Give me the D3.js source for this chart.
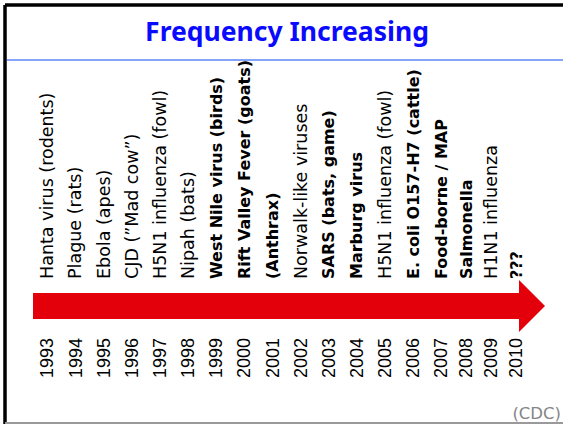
<!DOCTYPE html>
<html>
<head>
<meta charset="utf-8">
<script src="https://cdn.jsdelivr.net/npm/d3@7"></script>
<style>
    body { margin: 0; background: white; }
</style>
</head>
<body>
<script>
var years = [1993, 1994, 1995, 1996, 1997, 1998, 1999, 2000, 2001, 2002, 2003, 2004, 2005, 2006, 2007, 2008, 2009, 2010];
var events = ["Hanta virus (rodents)", "Plague (rats)", "Ebola (apes)", "CJD (\u201DMad cow\u201D)", "H5N1 influenza (fowl)",
    "Nipah (bats)", "West Nile virus (birds)", "Rift Valley Fever (goats)", "(Anthrax)", "Norwalk-like viruses",
    "SARS (bats, game)", "Marburg virus", "H5N1 influenza (fowl)", "E. coli O157-H7 (cattle)", "Food-borne / MAP",
    "Salmonella", "H1N1 influenza", "???"];
// events written in heavy type on the slide
var emphasized = ["West Nile virus (birds)", "Rift Valley Fever (goats)", "(Anthrax)", "SARS (bats, game)", "Marburg virus",
    "E. coli O157-H7 (cattle)", "Food-borne / MAP", "Salmonella", "???"];
var title = "Frequency Increasing";
var source = "(CDC)";

function init() {
    var w = 563;
    var h = 424;

    var svg = d3.select("body").append("svg").attr("width", w).attr("height", h);

    // slide frame
    svg.append("line").attr("x1", 5).attr("y1", 5).attr("x2", w).attr("y2", 5)
        .attr("stroke", "black").attr("stroke-width", 3.5);
    svg.append("line").attr("x1", 5).attr("y1", 5).attr("x2", 5).attr("y2", h)
        .attr("stroke", "black").attr("stroke-width", 3.5);
    svg.append("line").attr("x1", 5).attr("y1", 423).attr("x2", w).attr("y2", 423)
        .attr("stroke", "#9a9a9a").attr("stroke-width", 2);

    svg.append("text")
        .attr("x", 287)
        .attr("y", 41)
        .attr("text-anchor", "middle")
        .style("font-size", "26.5px")
        .style("font-family", "'Comic Sans MS', 'Noto Sans', sans-serif")
        .style("font-weight", "bold")
        .attr("fill", "#0a0aff")
        .text(title);

    svg.append("line").attr("x1", 7).attr("y1", 60).attr("x2", w).attr("y2", 60)
        .attr("stroke", "#5b86f5").attr("stroke-width", 1.5);

    // the years are a little tighter after 2007
    var x = d3.scaleLinear().domain([1993, 2007, 2010]).range([47, 441, 516]);

    // red arrow (timeline)
    var x0 = x(years[0]) - 14;
    var x1 = x(years[years.length - 1]) + 3;
    var ay = 306;
    svg.append("path")
        .attr("d", d3.line()([[x0, ay - 13], [x1, ay - 13], [x1, ay - 26], [x1 + 26, ay], [x1, ay + 26], [x1, ay + 13], [x0, ay + 13]]) + "Z")
        .attr("fill", "#e3000b");

    // events above the arrow
    svg.append("g").attr("class", "events")
        .selectAll("text")
        .data(events)
        .enter()
        .append("text")
        .attr("transform", function (d, i) { return "translate(" + x(years[i]) + ",279) rotate(-90)"; })
        .attr("dy", "0.36em")
        .style("font-family", "'Comic Sans MS', 'DejaVu Sans', sans-serif")
        .style("font-size", function (d) { return emphasized.indexOf(d) >= 0 ? "16px" : "17.5px"; })
        .style("font-weight", function (d) { return emphasized.indexOf(d) >= 0 ? "bold" : "normal"; })
        .attr("fill", "black")
        .text(function (d) { return d; });

    // years below the arrow
    svg.append("g").attr("class", "years")
        .selectAll("text")
        .data(years)
        .enter()
        .append("text")
        .attr("transform", function (d) { return "translate(" + x(d) + ",378) rotate(-90)"; })
        .attr("dy", "0.36em")
        .style("font-family", "'Liberation Sans', Arial, sans-serif")
        .style("font-size", "18px")
        .attr("fill", "black")
        .text(function (d) { return d; });

    svg.append("text")
        .attr("x", 561)
        .attr("y", 419)
        .attr("text-anchor", "end")
        .style("font-size", "16.5px")
        .style("font-family", "'Comic Sans MS', 'DejaVu Sans', sans-serif")
        .attr("fill", "#858585")
        .text(source);
}

window.onload = init;
</script>
</body>
</html>
